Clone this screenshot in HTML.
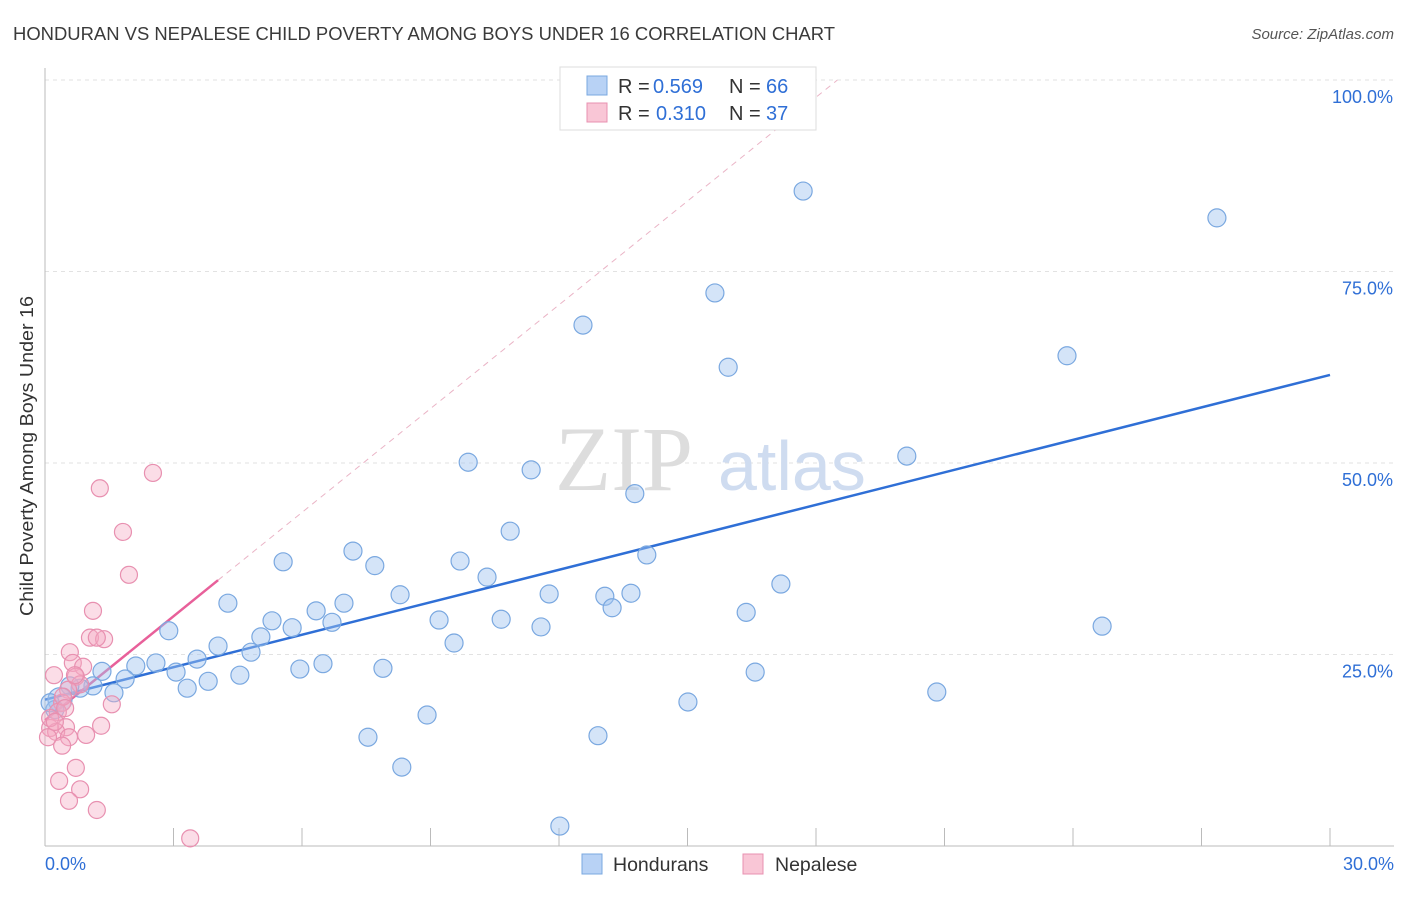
<!DOCTYPE html>
<html><head><meta charset="utf-8"><style>
body{margin:0;background:#fff;font-family:"Liberation Sans",sans-serif}
</style></head><body>
<svg id="chart" width="1406" height="892" viewBox="0 0 1406 892" xmlns="http://www.w3.org/2000/svg" font-family="Liberation Sans, sans-serif">
<text x="13" y="40" font-size="18" fill="#3a3a3a" textLength="822" lengthAdjust="spacingAndGlyphs">HONDURAN VS NEPALESE CHILD POVERTY AMONG BOYS UNDER 16 CORRELATION CHART</text>
<text x="1394" y="39" font-size="15" fill="#555" text-anchor="end" font-style="italic">Source: ZipAtlas.com</text>
<text transform="translate(33,456) rotate(-90)" font-size="18" fill="#333" text-anchor="middle" textLength="320" lengthAdjust="spacingAndGlyphs">Child Poverty Among Boys Under 16</text>
<g id="grid"></g>
<g id="ticks"></g>
<text x="555" y="490" font-size="92" fill="#ddd" font-family="Liberation Serif, serif">ZIP</text>
<text x="718" y="490" font-size="70" fill="#cfdcf0">atlas</text>
<g id="trends"></g>
<g id="points"></g>
<g font-size="20">
<rect x="560" y="67" width="256" height="63" fill="#fff" stroke="#ddd"/>
<rect x="587" y="76" width="20" height="19" fill="#b8d2f5" stroke="#7aa8e0"/>
<text x="618" y="93" fill="#333">R =</text><text x="653" y="93" fill="#2f6fd6">0.569</text>
<text x="729" y="93" fill="#333">N =</text><text x="766" y="93" fill="#2f6fd6">66</text>
<rect x="587" y="103" width="20" height="19" fill="#f9c6d6" stroke="#e890b0"/>
<text x="618" y="120" fill="#333">R =</text><text x="656" y="120" fill="#2f6fd6">0.310</text>
<text x="729" y="120" fill="#333">N =</text><text x="766" y="120" fill="#2f6fd6">37</text>
</g>
<g>
<rect x="582" y="854" width="20" height="20" fill="#b8d2f5" stroke="#7aa8e0"/>
<text x="613" y="871" font-size="19.5" fill="#333">Hondurans</text>
<rect x="743" y="854" width="20" height="20" fill="#f9c6d6" stroke="#e890b0"/>
<text x="775" y="871" font-size="19.5" fill="#333">Nepalese</text>
</g>
</svg>
<script>
const blueX=[17.70,27.36,15.64,12.56,15.95,23.86,9.88,11.35,20.12,13.77,10.86,7.19,9.69,5.56,7.70,10.32,14.05,8.29,11.77,13.07,13.68,13.24,17.18,16.37,4.27,5.30,6.33,6.98,5.77,6.70,9.20,10.65,11.58,24.68,2.89,5.04,4.04,4.81,9.55,3.55,2.59,2.12,3.06,3.32,3.81,4.55,5.95,6.49,7.89,16.58,20.82,15.01,8.92,7.54,12.91,8.33,12.02,1.33,1.87,1.61,1.12,0.82,0.58,0.35,0.23,0.12];
const blueY=[85.5,82.0,72.2,68.0,62.5,64.0,50.1,49.1,50.9,46.0,41.1,38.5,37.2,37.1,36.6,35.1,38.0,32.8,32.9,32.6,33.0,31.1,34.2,30.5,31.7,29.4,30.7,31.7,28.5,29.2,29.5,29.6,28.6,28.7,28.1,27.3,26.1,25.3,26.5,24.4,23.9,23.5,22.7,20.6,21.5,22.3,23.1,23.8,23.2,22.7,20.1,18.8,17.1,14.2,14.4,10.3,2.6,22.8,21.8,20.0,20.9,20.6,20.9,19.1,17.8,18.7];
const pinkX=[2.52,1.28,1.82,1.96,1.12,1.05,1.38,1.21,0.58,0.65,0.89,0.21,0.72,0.82,0.54,0.40,1.56,0.30,1.31,0.49,0.12,0.26,0.96,0.07,0.56,0.40,0.72,0.33,0.82,0.56,1.21,3.39,0.12,0.42,0.70,0.23,0.47];
const pinkY=[48.7,46.7,41.0,35.4,30.7,27.2,27.0,27.2,25.3,23.9,23.4,22.3,22.1,21.1,20.4,18.7,18.5,17.5,15.7,15.5,15.4,14.9,14.5,14.2,14.2,13.1,10.2,8.5,7.4,5.9,4.7,1.0,16.7,19.5,22.3,16.2,18.0];
const blueTrend=[[0,19.1],[30,61.5]];
const pinkTrend=[[0,16.4],[4.04,34.7]];
const pinkDash=[[4.04,34.7],[18.5,100]];
const yTicks=[25,50,75,100];
const xTickLabels=["0.0%","30.0%"];
const NS="http://www.w3.org/2000/svg";
const sx=v=>45+v/30*1285, sy=v=>846-v/100*766;
function mk(tag,attrs,parent){const e=document.createElementNS(NS,tag);for(const k in attrs)e.setAttribute(k,attrs[k]);document.getElementById(parent).appendChild(e);return e;}
yTicks.forEach(t=>{
 const l=mk('line',{x1:45,x2:1394,y1:sy(t),y2:sy(t),stroke:'#e2e2e2','stroke-dasharray':'4,4'},'grid');
 
 
 const tx=mk('text',{x:1393,y:sy(t)+23,'font-size':18,fill:'#2f6fd6','text-anchor':'end'},'grid');
 tx.textContent=t.toFixed(1)+'%';
 
 
});
mk('line',{x1:45,x2:45,y1:68,y2:846,stroke:'#bbb'},'ticks');
mk('line',{x1:45,x2:1394,y1:846,y2:846,stroke:'#bbb'},'ticks');
for(let i=0;i<=10;i++){const x=sx(i*3);const l=mk('line',{x1:x,x2:x,y1:828,y2:846,stroke:'#bbb'},'ticks');
 
 }
[[0,'start',45],[30,'end',1394]].forEach((d,i)=>{const t=mk('text',{x:d[2],y:870,'font-size':18,fill:'#2f6fd6','text-anchor':d[1]},'ticks');t.textContent=xTickLabels[i];
 
 });
const bl=mk('line',{x1:sx(blueTrend[0][0]),y1:sy(blueTrend[0][1]),x2:sx(blueTrend[1][0]),y2:sy(blueTrend[1][1]),stroke:'#2f6fd6','stroke-width':2.5},'trends');


const pd=mk('line',{x1:sx(pinkDash[0][0]),y1:sy(pinkDash[0][1]),x2:sx(pinkDash[1][0]),y2:sy(pinkDash[1][1]),stroke:'#eab4c6','stroke-width':1,'stroke-dasharray':'6,5'},'trends');


const pl=mk('line',{x1:sx(pinkTrend[0][0]),y1:sy(pinkTrend[0][1]),x2:sx(pinkTrend[1][0]),y2:sy(pinkTrend[1][1]),stroke:'#e8609a','stroke-width':2.5},'trends');


blueX.forEach((x,i)=>{const c=mk('circle',{cx:sx(x),cy:sy(blueY[i]),r:i==63?12:9,fill:'rgba(160,195,240,0.45)',stroke:'#7aa8e0','stroke-width':1.2},'points');
 
 });
pinkX.forEach((x,i)=>{const c=mk('circle',{cx:sx(x),cy:sy(pinkY[i]),r:8.5,fill:'rgba(245,170,195,0.4)',stroke:'#e890b0','stroke-width':1.2},'points');
 
 });
</script>
</body></html>
